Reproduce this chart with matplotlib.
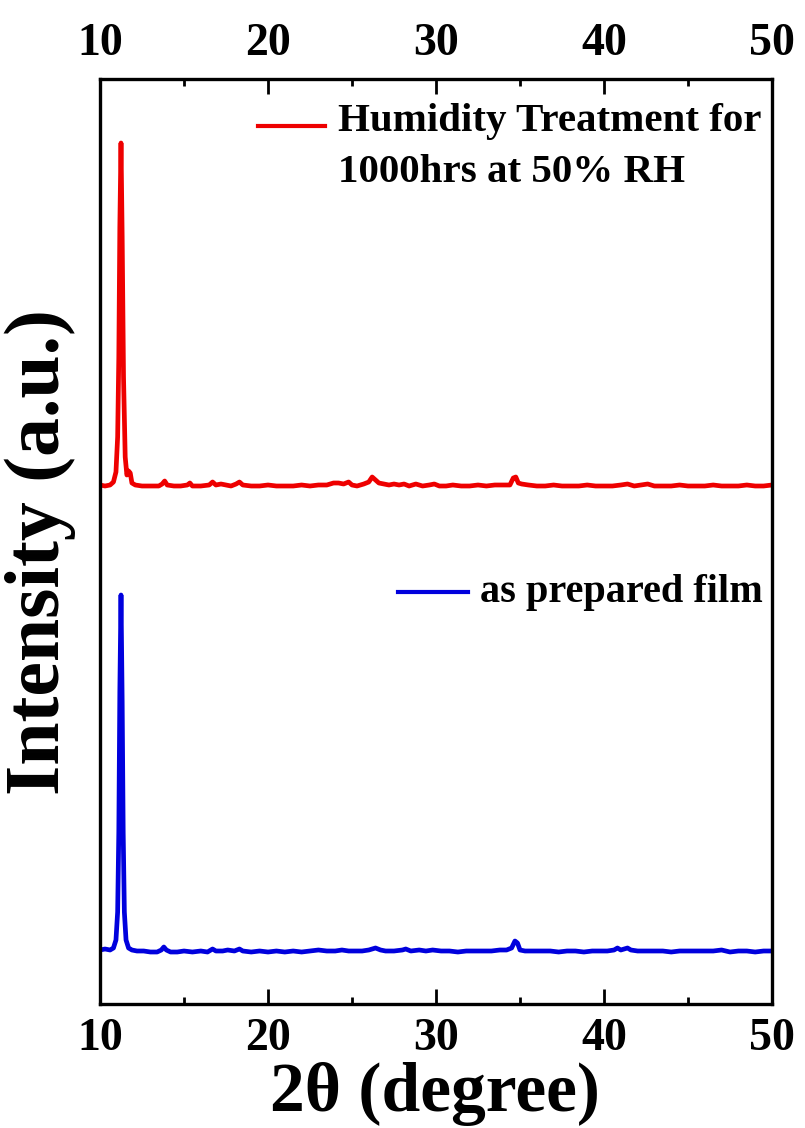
import matplotlib
matplotlib.use("Agg")
from matplotlib import pyplot as plt
from matplotlib.ticker import MultipleLocator

# 2theta (degree) and intensity (a.u., relative to each baseline)
two_theta_blue = [10.0, 10.3, 10.6, 10.8, 10.95, 11.05, 11.12, 11.18, 11.25, 11.32, 11.38, 11.45,
                  11.55, 11.7, 11.9, 12.2, 12.6, 13.0, 13.4, 13.65, 13.8, 13.95, 14.2, 14.6, 15.0,
                  15.5, 16.0, 16.4, 16.7, 16.9, 17.3, 17.6, 18.0, 18.3, 18.5, 19.0, 19.5, 20.0,
                  20.5, 21.0, 21.5, 22.0, 22.5, 23.0, 23.5, 24.0, 24.4, 24.8, 25.2, 25.6, 26.0,
                  26.4, 26.7, 27.0, 27.5, 28.0, 28.2, 28.5, 29.0, 29.4, 29.8, 30.3, 30.8, 31.3,
                  31.8, 32.3, 32.8, 33.3, 33.8, 34.2, 34.5, 34.7, 34.85, 35.0, 35.3, 35.8, 36.3,
                  36.8, 37.3, 37.8, 38.3, 38.8, 39.3, 39.8, 40.2, 40.6, 40.8, 41.0, 41.2, 41.4,
                  41.6, 42.0, 42.5, 43.0, 43.5, 44.0, 44.5, 45.0, 45.5, 46.0, 46.5, 47.0, 47.5,
                  48.0, 48.5, 49.0, 49.5, 50.0]
intensity_blue = [2, 3, 2, 4, 12, 40, 120, 260, 357, 250, 120, 40,
                  12, 4, 2, 1, 1, 0, 0, 2, 5, 2, 0, 0, 1,
                  0, 1, 0, 3, 1, 1, 2, 1, 3, 1, 0, 1, 0,
                  1, 0, 1, 0, 1, 2, 1, 1, 2, 1, 1, 1, 2,
                  4, 2, 1, 1, 2, 3, 1, 2, 1, 2, 1, 1, 0,
                  1, 1, 1, 1, 2, 2, 4, 11, 9, 2, 1, 1, 1,
                  1, 0, 1, 1, 0, 1, 1, 1, 2, 4, 2, 3, 4,
                  2, 1, 1, 1, 1, 0, 1, 1, 1, 1, 1, 2, 0,
                  1, 1, 0, 1, 1]

two_theta_red = [10.0, 10.3, 10.6, 10.8, 10.95, 11.05, 11.12, 11.18, 11.25, 11.32, 11.4, 11.5,
                 11.6, 11.7, 11.8, 11.9, 12.1, 12.5, 13.0, 13.5, 13.7, 13.85, 14.0, 14.4, 14.8,
                 15.2, 15.35, 15.5, 16.0, 16.5, 16.7, 16.9, 17.2, 17.5, 17.8, 18.1, 18.3, 18.5,
                 19.0, 19.5, 20.0, 20.5, 21.0, 21.5, 22.0, 22.5, 23.0, 23.5, 23.9, 24.2, 24.5,
                 24.8, 25.0, 25.3, 25.7, 26.0, 26.2, 26.4, 26.6, 26.9, 27.2, 27.5, 27.8, 28.1,
                 28.4, 28.8, 29.2, 29.6, 29.9, 30.2, 30.6, 31.0, 31.5, 32.0, 32.5, 33.0, 33.5,
                 34.0, 34.4, 34.6, 34.75, 34.9, 35.1, 35.5, 36.0, 36.5, 37.0, 37.5, 38.0, 38.5,
                 39.0, 39.5, 40.0, 40.5, 41.0, 41.4, 41.8, 42.2, 42.6, 43.0, 43.5, 44.0, 44.5,
                 45.0, 45.5, 46.0, 46.5, 47.0, 47.5, 48.0, 48.5, 49.0, 49.5, 50.0]
intensity_red = [2, 1, 2, 5, 15, 50, 130, 260, 344, 250, 110, 30,
                 12, 16, 14, 4, 2, 1, 1, 1, 3, 6, 2, 1, 1,
                 2, 4, 1, 1, 2, 5, 2, 3, 2, 1, 3, 5, 2,
                 1, 1, 2, 1, 1, 1, 2, 1, 2, 2, 4, 4, 3,
                 5, 2, 1, 3, 5, 10, 7, 4, 3, 2, 3, 2, 3,
                 1, 3, 1, 2, 3, 1, 1, 2, 1, 1, 2, 1, 2,
                 2, 2, 9, 10, 4, 3, 2, 1, 1, 2, 1, 1, 1,
                 2, 1, 1, 1, 2, 3, 1, 2, 3, 1, 1, 1, 2,
                 1, 1, 1, 2, 1, 1, 1, 2, 1, 1, 2]

# vertical offsets of the stacked patterns
offset_blue = 52
offset_red = 517

label_red = ["Humidity Treatment for", "1000hrs at 50% RH"]
label_blue = "as prepared film"

plt.rcParams["font.family"] = ["Liberation Serif", "DejaVu Serif"]
plt.rcParams["font.weight"] = "bold"

fig = plt.figure(figsize=(8.05, 11.28), dpi=100)
ax = fig.add_axes([100 / 805, 1 - 1004 / 1128, 672 / 805, 925 / 1128])

ax.plot(two_theta_red, [v + offset_red for v in intensity_red], color="#ee0000", lw=3.4)
ax.plot(two_theta_blue, [v + offset_blue for v in intensity_blue], color="#0000dd", lw=3.4)

ax.set_xlim(10, 50)
ax.set_ylim(0, 925)

# axis styling
for sp in ax.spines.values():
    sp.set_linewidth(2.4)
ax.xaxis.set_major_locator(MultipleLocator(10))
ax.xaxis.set_minor_locator(MultipleLocator(5))
ax.tick_params(axis="x", which="both", direction="in", top=True, bottom=True,
               labeltop=True, labelbottom=True, labelsize=33, width=2)
ax.tick_params(axis="x", which="major", length=11, pad=10)
ax.tick_params(axis="x", which="minor", length=5)
ax.set_yticks([])

ax.set_xlabel("2θ (degree)", fontsize=50, fontweight="bold")
ax.xaxis.set_label_coords(0.4985, -0.063)
ax.set_ylabel("Intensity (a.u.)", fontsize=56, fontweight="bold")
ax.yaxis.set_label_coords(-0.035, 0.489)

# legend entries
ax.plot([0.235, 0.335], [0.949, 0.949], color="#ee0000", lw=3, transform=ax.transAxes)
ax.text(0.354, 0.954, label_red[0], transform=ax.transAxes, fontsize=29.5,
        fontweight="bold", va="center", ha="left")
ax.text(0.354, 0.899, label_red[1], transform=ax.transAxes, fontsize=29.5,
        fontweight="bold", va="center", ha="left")
ax.plot([0.443, 0.548], [0.445, 0.445], color="#0000dd", lw=3, transform=ax.transAxes)
ax.text(0.565, 0.445, label_blue, transform=ax.transAxes, fontsize=29,
        fontweight="bold", va="center", ha="left")

fig.savefig("out.png", dpi=100)
